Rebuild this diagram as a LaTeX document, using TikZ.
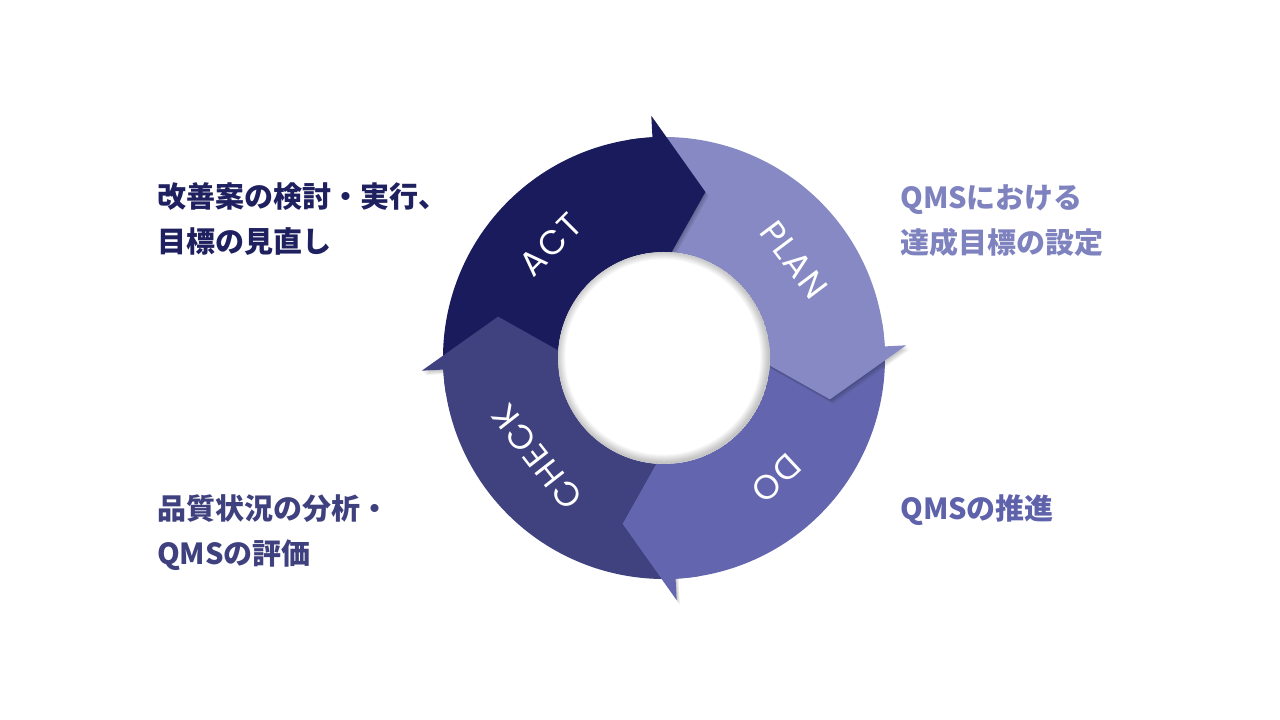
\documentclass[tikz,border=0pt]{standalone}
\usepackage{fontspec}
\newfontfamily\jp{Noto Sans CJK JP}
\newfontfamily\labfont[LetterSpace=6]{Poppins}
\definecolor{actc}{HTML}{1A1B5C}
\definecolor{planc}{HTML}{8689C3}
\definecolor{doc}{HTML}{6366AE}
\definecolor{checkc}{HTML}{40427F}
\definecolor{tact}{HTML}{1E205F}
\definecolor{tplan}{HTML}{7E82BF}
\definecolor{tdo}{HTML}{5E62AB}
\definecolor{tcheck}{HTML}{3F417F}
\tikzset{
  seglabel/.style={text=white,font=\labfont\fontsize{34}{34}\selectfont,inner sep=0pt},
  desc/.style={font=\jp\bfseries\fontsize{29}{45}\selectfont,align=left,anchor=west,inner sep=0pt}
}
\newcommand{\pdcaband}[4]{% start angle, end angle, colour, base angle for end
  \fill[#3] (#1:221) arc[start angle=#1,end angle=#2,radius=221] -- (#2:106) arc[start angle=#2,end angle=#1,radius=106] -- cycle;}
\newcommand{\pdcahead}[2]{%
  \foreach \s in {1,2,3,4}
    \fill[black,opacity=0.06,shift={(\s*0.8pt,-\s*1.1pt)}] (#1:84.5) -- (#1:242.5) -- (#1-17:171) -- cycle;
  \pdcaband{#1+6}{#1-1.5}{#2}{}
  \fill[#2] (#1:84.5) -- (#1:242.5) -- (#1-17:171) -- cycle;}
\begin{document}
\begin{tikzpicture}[x=1pt,y=1pt]
\useasboundingbox (0,0) rectangle (1280,720);
\fill[white] (0,0) rectangle (1280,720);
\begin{scope}[shift={(664,362)}]
  % bands
  \pdcaband{183}{91.5}{actc}{}
  \pdcaband{93}{1.5}{planc}{}
  \pdcaband{3}{-88.5}{doc}{}
  \pdcaband{-87}{-178.5}{checkc}{}
  % heads
  \pdcahead{93}{actc}
  \pdcahead{3}{planc}
  \pdcahead{-87}{doc}
  \pdcahead{183}{checkc}
  % inner hole shadow
  \begin{scope}
    \clip (0,0) circle (106);
    \fill[white] (0,0) circle (106);
    \foreach \i in {1,...,10}
      \draw[black,opacity=0.024,line width=\i*1.7pt] (-1,1) circle (106);
  \end{scope}
  % labels
  \node[seglabel,rotate=45] (act) at (135:160) {ACT};
  \node[seglabel,rotate=-53] (plan) at (37:163) {PLAN};
  \node[seglabel,rotate=-137] (do) at (-47:164) {DO};
  \node[seglabel,rotate=128] (check) at (218:161) {CHECK};
\end{scope}
\node[desc,text=tact] (tacttext) at (157,500.5) {改善案の検討・実行、\\目標の見直し};
\node[desc,text=tplan] (tplantext) at (900,499.5) {QMSにおける\\達成目標の設定};
\node[desc,text=tcheck] (tchecktext) at (157,187.5) {品質状況の分析・\\QMSの評価};
\node[desc,text=tdo] (tdotext) at (900,210) {QMSの推進};
\end{tikzpicture}
\end{document}
